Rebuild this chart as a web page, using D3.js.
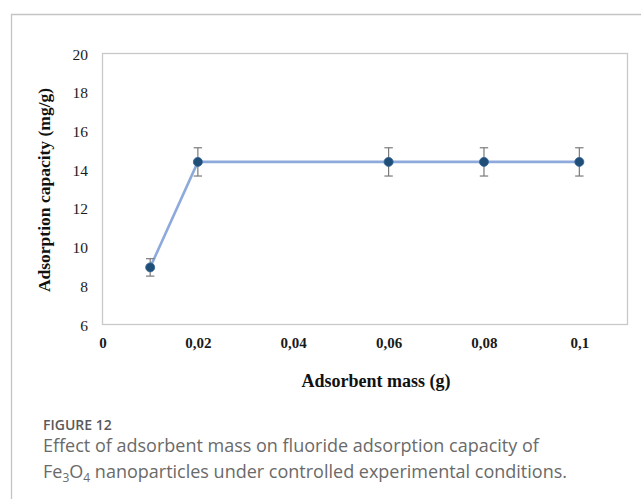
<!DOCTYPE html>
<html>
<head>
<meta charset="utf-8">
<script src="https://cdn.jsdelivr.net/npm/d3@7"></script>
<style>
  html, body { margin: 0; padding: 0; background: #fff; }
  svg { display: block; }
</style>
</head>
<body>
<div id="chart"></div>
<script>
// Adsorbent mass (g) and measured adsorption capacity (mg/g) with error
const massValues = [0.01, 0.02, 0.06, 0.08, 0.1];
const capacityValues = [8.95, 14.4, 14.4, 14.4, 14.4];
const capacityErrors = [0.45, 0.73, 0.73, 0.73, 0.73];
const xTickValues = [0, 0.02, 0.04, 0.06, 0.08, 0.1];
const xTickLabels = ["0", "0,02", "0,04", "0,06", "0,08", "0,1"];
const yTickValues = [6, 8, 10, 12, 14, 16, 18, 20];
const captionLines = [
  "Effect of adsorbent mass on fluoride adsorption capacity of",
  ["Fe", "3", "O", "4", " nanoparticles under controlled experimental conditions."]
];

const W = 641, H = 499;
const plot = { left: 102.5, right: 627.5, top: 53.5, bottom: 324.5 };
const serif = "'Liberation Serif', 'Times New Roman', serif";

const svg = d3.select("#chart").append("svg")
  .attr("width", W).attr("height", H);

// Figure panel frame (left and top edges)
svg.append("path")
  .attr("d", `M11.5,${H} V14.5 H${W}`)
  .attr("fill", "none")
  .attr("stroke", "#c4c4c4")
  .attr("stroke-width", 1.3);

const x = d3.scaleLinear().domain([0, 0.1101]).range([plot.left, plot.right]);
const y = d3.scaleLinear().domain([6, 20]).range([plot.bottom, plot.top]);

// Plot area border
svg.append("rect")
  .attr("x", plot.left).attr("y", plot.top)
  .attr("width", plot.right - plot.left)
  .attr("height", plot.bottom - plot.top)
  .attr("fill", "none")
  .attr("stroke", "#c9c9c9")
  .attr("stroke-width", 1.3);

// Y axis labels
const yAxis = d3.axisLeft(y).tickValues(yTickValues).tickSize(0).tickPadding(0)
  .tickFormat(d3.format("d"));
const yg = svg.append("g").attr("transform", `translate(88,0)`).call(yAxis);
yg.select(".domain").remove();
yg.selectAll("text")
  .attr("font-family", serif)
  .attr("font-size", 15.5)
  .attr("fill", "#1a1a1a")
  .attr("dy", "0.36em");

// X axis labels
const xAxis = d3.axisBottom(x).tickValues(xTickValues).tickSize(0).tickPadding(0)
  .tickFormat((d, i) => xTickLabels[i]);
const xg = svg.append("g").attr("transform", `translate(0,337.5)`).call(xAxis);
xg.select(".domain").remove();
xg.selectAll("text")
  .attr("font-family", serif)
  .attr("font-size", 15)
  .attr("font-weight", "bold")
  .attr("fill", "#1a1a1a");

// Axis titles
svg.append("text")
  .attr("transform", `translate(50,${(plot.top + plot.bottom) / 2 + 1}) rotate(-90)`)
  .attr("text-anchor", "middle")
  .attr("font-family", serif)
  .attr("font-size", 17.5)
  .attr("font-weight", "bold")
  .attr("fill", "#111")
  .text("Adsorption capacity (mg/g)");

svg.append("text")
  .attr("x", 376).attr("y", 387)
  .attr("text-anchor", "middle")
  .attr("font-family", serif)
  .attr("font-size", 18)
  .attr("font-weight", "bold")
  .attr("fill", "#111")
  .text("Adsorbent mass (g)");

// Data series
const data = massValues.map((m, i) => ({ m, v: capacityValues[i], e: capacityErrors[i] }));

svg.append("path")
  .datum(data)
  .attr("fill", "none")
  .attr("stroke", "#8eaadc")
  .attr("stroke-width", 2.6)
  .attr("d", d3.line().x(d => x(d.m)).y(d => y(d.v)));

// Error bars
const eb = svg.append("g").attr("stroke", "#7a7a7a").attr("stroke-width", 1.2);
data.forEach(d => {
  const cx = x(d.m), y1 = y(d.v + d.e), y2 = y(d.v - d.e);
  eb.append("line").attr("x1", cx).attr("x2", cx).attr("y1", y1).attr("y2", y2);
  eb.append("line").attr("x1", cx - 4.2).attr("x2", cx + 4.2).attr("y1", y1).attr("y2", y1);
  eb.append("line").attr("x1", cx - 4.2).attr("x2", cx + 4.2).attr("y1", y2).attr("y2", y2);
});

// Markers
svg.append("g").selectAll("circle").data(data).join("circle")
  .attr("cx", d => x(d.m)).attr("cy", d => y(d.v))
  .attr("r", 4.5)
  .attr("fill", "#1f4e79")
  .attr("stroke", "#2e5f90")
  .attr("stroke-width", 0.8);

// Caption
svg.append("text")
  .attr("x", 43).attr("y", 429.5)
  .attr("font-family", "'Open Sans', sans-serif")
  .attr("font-size", 14)
  .attr("font-weight", 600)
  .attr("fill", "#5a5a5a")
  .text("FIGURE 12");

svg.append("text")
  .attr("x", 43).attr("y", 452)
  .attr("font-family", "'Open Sans', sans-serif")
  .attr("font-size", 18)
  .attr("fill", "#6a6a6a")
  .text(captionLines[0]);

const line2 = svg.append("text")
  .attr("x", 43).attr("y", 478)
  .attr("font-family", "'Open Sans', sans-serif")
  .attr("font-size", 18)
  .attr("fill", "#6a6a6a");
const parts = captionLines[1];
line2.append("tspan").text(parts[0]);
line2.append("tspan").attr("font-size", 12).attr("dy", 4).text(parts[1]);
line2.append("tspan").attr("dy", -4).text(parts[2]);
line2.append("tspan").attr("font-size", 12).attr("dy", 4).text(parts[3]);
line2.append("tspan").attr("dy", -4).text(parts[4]);
</script>
</body>
</html>
